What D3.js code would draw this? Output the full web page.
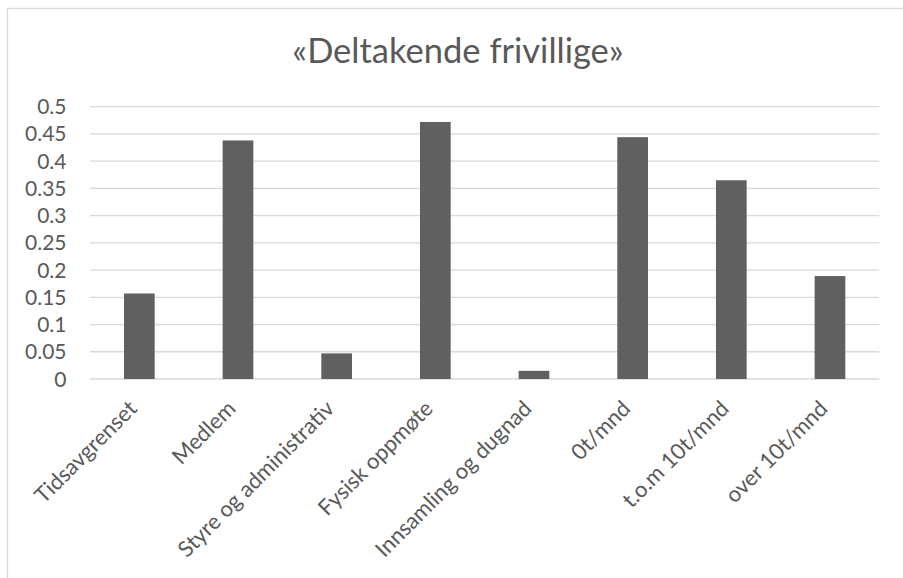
<!DOCTYPE html>
<html><head><meta charset="utf-8">
<script src="https://cdn.jsdelivr.net/npm/d3@7"></script>
<style>body{margin:0;background:#fff;} text{font-family:Lato, "Open Sans", sans-serif;}</style>
</head><body>
<svg id="c" width="903" height="578"></svg>
<script>
const title = "«Deltakende frivillige»";
const categories = ["Tidsavgrenset","Medlem","Styre og administrativ","Fysisk oppmøte","Innsamling og dugnad","0t/mnd","t.o.m 10t/mnd","over 10t/mnd"];
const values = [0.157, 0.438, 0.047, 0.472, 0.015, 0.444, 0.365, 0.189];
const yTicks = [0,0.05,0.1,0.15,0.2,0.25,0.3,0.35,0.4,0.45,0.5];

const svg = d3.select("#c");
const W = 903, H = 578;
const m = {left:90, right:W-879.3, top:106.7, bottom:H-379};
svg.append("rect").attr("x",7.5).attr("y",8.5).attr("width",W).attr("height",H)
  .attr("fill","#fff").attr("stroke","#d9d9d9").attr("stroke-width",1.3);

const x = d3.scaleBand().domain(categories).range([m.left, W-m.right]).paddingInner(0.689).paddingOuter(0.3445);
const y = d3.scaleLinear().domain([0,0.5]).range([H-m.bottom, m.top]);

svg.append("g").selectAll("line").data(yTicks).join("line")
  .attr("x1",m.left).attr("x2",W-m.right)
  .attr("y1",d=>y(d)).attr("y2",d=>y(d))
  .attr("stroke","#d9d9d9").attr("stroke-width",1.3);

svg.append("g").selectAll("text").data(yTicks).join("text")
  .attr("x",66.5).attr("y",d=>y(d)).attr("dy","0.36em")
  .attr("text-anchor","end").attr("fill","#595959").attr("font-size",21)
  .text(d=>String(d));

svg.append("g").selectAll("rect").data(categories).join("rect")
  .attr("x",d=>x(d)).attr("width",x.bandwidth())
  .attr("y",(d,i)=>y(values[i])).attr("height",(d,i)=>y(0)-y(values[i]))
  .attr("fill","#606060");

svg.append("g").selectAll("text").data(categories).join("text")
  .attr("transform",d=>`translate(${x(d)+x.bandwidth()/2-1},${y(0)+31}) rotate(-45)`)
  .attr("text-anchor","end").attr("fill","#595959").attr("font-size",22)
  .text(d=>d);

svg.append("text").attr("x",458).attr("y",63).attr("text-anchor","middle")
  .attr("fill","#595959").attr("font-size",34.5).text(title);
</script>
</body></html>
